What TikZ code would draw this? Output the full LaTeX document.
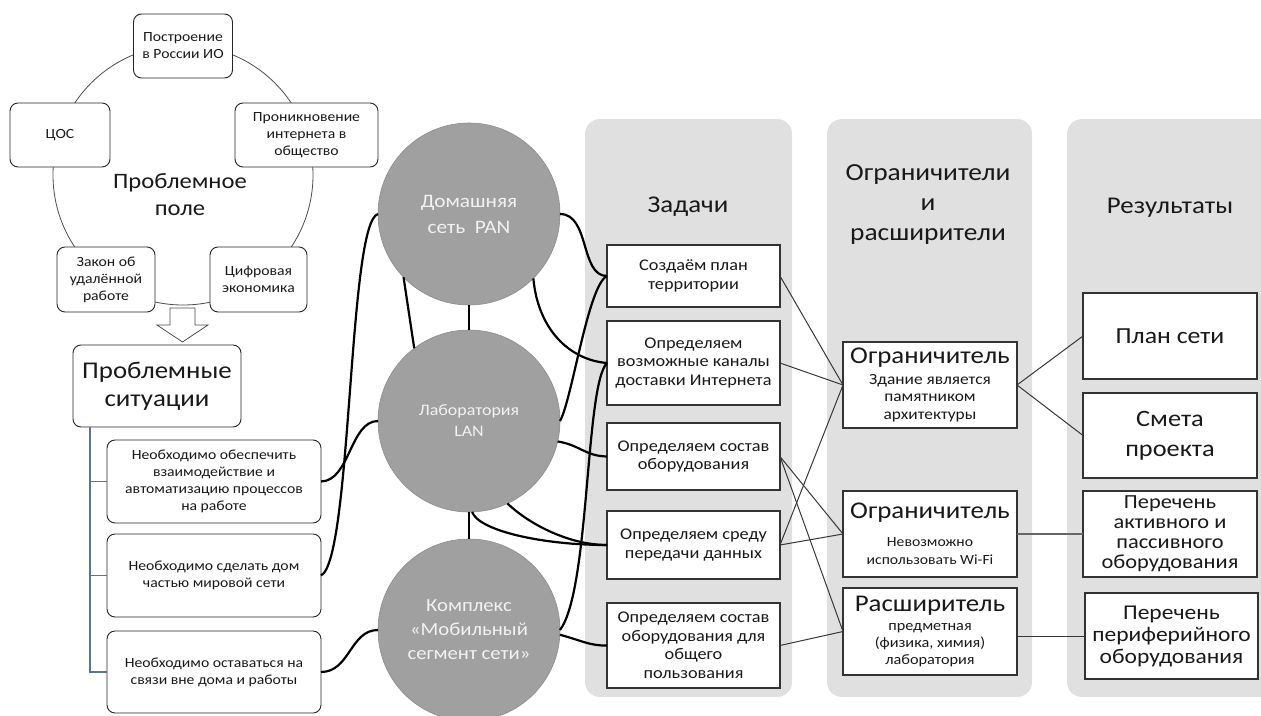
\documentclass[tikz,border=0pt]{standalone}
\usepackage{fontspec}
\setmainfont{Carlito}[FakeStretch=1.12]
\usepackage{xcolor}
\definecolor{ringgray}{RGB}{160,160,160}
\definecolor{ringedge}{RGB}{140,140,140}
\definecolor{ringtext}{RGB}{242,242,242}
\definecolor{panelgray}{RGB}{224,224,224}
\definecolor{linegray}{RGB}{55,55,55}
\definecolor{brackblue}{RGB}{95,115,140}
\newcommand\txtS{\fontsize{14}{17}\selectfont}
\newcommand\txtT{\fontsize{16.3}{18.5}\selectfont}
\newcommand\txtH{\fontsize{24}{26}\selectfont}
\newcommand\txtL{\fontsize{24}{28}\selectfont}

\begin{document}
\begin{tikzpicture}[x=1pt, y=-1pt]
\tikzstyle{every node}=[inner sep=0pt, outer sep=0pt, align=center, text=black!90]
\tikzstyle{rbox}=[rectangle, rounded corners=8pt, draw=black!85, fill=white,
                  line width=0.9pt, font=\txtS]
\tikzstyle{sqbox}=[rectangle, draw=black!80, fill=white, line width=1.3pt]
\tikzstyle{ring}=[circle, fill=ringgray, draw=ringedge, line width=0.6pt,
                  minimum size=182pt, text=ringtext]
\tikzstyle{panel}=[rectangle, rounded corners=15pt, fill=panelgray]
\tikzstyle{wire}=[line width=2.2pt, black]
\tikzstyle{thinwire}=[line width=1pt, linegray]
\useasboundingbox (0,0) rectangle (1261,715);
\node[panel, minimum width=207, minimum height=578] (ptask) at (688.5,408) {};
\node[panel, minimum width=205, minimum height=578] (plim) at (929.5,408) {};
\node[panel, minimum width=230, minimum height=578] (pres) at (1182,408) {};
\node[font=\txtL] (htask) at (688,207) {Задачи};
\node[font=\fontsize{24.5}{30}\selectfont] (hlim) at (928,205) {Ограничители\\и\\расширители};
\node[font=\txtL] (hres) at (1170,208) {Результаты};
\node[circle, draw=black!70, line width=0.8pt, minimum size=260] (field) at (183,175) {};
\node[font=\fontsize{22}{27}\selectfont] (fieldlbl) at (180,195) {Проблемное\\поле};
\node[rbox, minimum width=99, minimum height=64] (ftop) at (183,46) {Построение\\в России ИО};
\node[rbox, minimum width=100, minimum height=64] (fleft) at (60,135) {ЦОС};
\node[rbox, minimum width=143, minimum height=64] (fright) at (306.5,135) {Проникновение\\интернета в\\общество};
\node[rbox, minimum width=98, minimum height=65] (fbl) at (106,279.5) {Закон об\\удалённой\\работе};
\node[rbox, minimum width=97, minimum height=65] (fbr) at (258.5,279.5) {Цифровая\\экономика};
\draw[black!70, line width=0.8pt, fill=white] (170,308) -- (195,308) -- (195,325) -- (208,325)
   -- (182.5,342) -- (157,325) -- (170,325) -- cycle;
\node[rbox, font=\txtL, minimum width=168, minimum height=82] (sit) at (157,386) {Проблемные\\ситуации};
\node[rbox, minimum width=214, minimum height=83] (s1) at (214,481.5) {Необходимо обеспечить\\взаимодействие и\\автоматизацию процессов\\на работе};
\node[rbox, minimum width=214, minimum height=83] (s2) at (214,575.5) {Необходимо сделать дом\\частью мировой сети};
\node[rbox, minimum width=214, minimum height=82] (s3) at (214,672) {Необходимо оставаться на\\связи вне дома и работы};
\coordinate (brk) at ([xshift=17pt]sit.south west);
\foreach \s in {s1,s2,s3}{\draw[brackblue, line width=1.2pt] (brk) |- (\s.west);}
\node[ring, font=\fontsize{19}{26}\selectfont] (pan) at (469,214) {Домашняя\\сеть~~PAN};
\node[ring, font=\fontsize{16}{21}\selectfont] (lan) at (469,421) {Лаборатория\\LAN};
\node[ring, font=\fontsize{18.5}{24}\selectfont] (mob) at (469,630) {Комплекс\\«Мобильный\\сегмент сети»};
\node[sqbox, font=\txtT, minimum width=173, minimum height=62] (t1) at (693.5,276) {Создаём план\\территории};
\node[sqbox, font=\txtT, minimum width=173, minimum height=84] (t2) at (693.5,363) {Определяем\\возможные каналы\\доставки Интернета};
\node[sqbox, font=\txtT, minimum width=173, minimum height=67] (t3) at (693.5,456.5) {Определяем состав\\оборудования};
\node[sqbox, font=\txtT, minimum width=173, minimum height=68] (t4) at (693.5,545) {Определяем среду\\передачи данных};
\node[sqbox, font=\txtT, minimum width=173, minimum height=85] (t5) at (693.5,645.5) {Определяем состав\\оборудования для\\общего\\пользования};
\node[sqbox, font=\fontsize{15.5}{17.5}\selectfont, minimum width=174, minimum height=86] (l1) at (930,385)
   {\txtH Ограничитель\\[3pt]Здание является\\памятником\\архитектуры};
\node[sqbox, font=\fontsize{14}{18}\selectfont, minimum width=174, minimum height=86] (l2) at (930,534)
   {\txtH Ограничитель\\[10pt]Невозможно\\использовать Wi-Fi};
\node[sqbox, font=\fontsize{14.5}{17}\selectfont, minimum width=174, minimum height=87] (l3) at (930,631.5)
   {\txtH Расширитель\\[2pt]предметная\\(физика, химия)\\лаборатория};
\node[sqbox, font=\fontsize{23}{30}\selectfont, minimum width=174, minimum height=86] (r1) at (1170,336) {План сети};
\node[sqbox, font=\fontsize{23.5}{30}\selectfont, minimum width=174, minimum height=85] (r2) at (1170,435.5) {Смета\\проекта};
\node[sqbox, font=\fontsize{20}{20}\selectfont, minimum width=174, minimum height=86] (r3) at (1170,534) {Перечень\\активного и\\пассивного\\оборудования};
\node[sqbox, font=\fontsize{21}{22}\selectfont, minimum width=173, minimum height=86] (r4) at (1171.5,636) {Перечень\\периферийного\\оборудования};
\draw[wire] (s1.east) .. controls (350,481) and (350,421) .. (lan.west);
\draw[wire] (s2.east) .. controls (352,560) and (348,222) .. (pan.west);
\draw[wire] (s3.east) .. controls (350,672) and (350,630) .. (mob.west);
\draw[wire] (pan.224) -- (lan.127);
\draw[wire] (pan.south) -- (lan.north);
\draw[wire] (lan.south) -- (mob.north);
\draw[wire] (pan.east) .. controls (590,214) and (580,276) .. (t1.west);
\draw[wire] (pan.-45) .. controls (538,330) and (570,360) .. (t2.west);
\draw[wire] (lan.east) .. controls (572,400) and (588,285) .. (t1.west);
\draw[wire] (mob.east) .. controls (590,590) and (585,385) .. (t2.west);
\draw[wire] (lan.-13) .. controls (580,445) and (585,456) .. (t3.west);
\draw[wire] (lan.-65) .. controls (530,525) and (570,545) .. (t4.west);
\draw[wire] (lan.-88) .. controls (478,530) and (540,545) .. (t4.west);
\draw[wire] (mob.-3) .. controls (580,640) and (590,646) .. (t5.west);
\foreach \i/\j in {t1/l1, t2/l1, t4/l1, t3/l2, t4/l2, t3/l3, t5/l3, l1/r1, l1/r2}{\draw[thinwire] (\i.east) -- (\j.west);}
\draw[thinwire] (r4.west -| l3.east) -- (r4.west);
\draw[line width=1.8pt, black!60] (l2.east) -- (r3.west);
\end{tikzpicture}
\end{document}
